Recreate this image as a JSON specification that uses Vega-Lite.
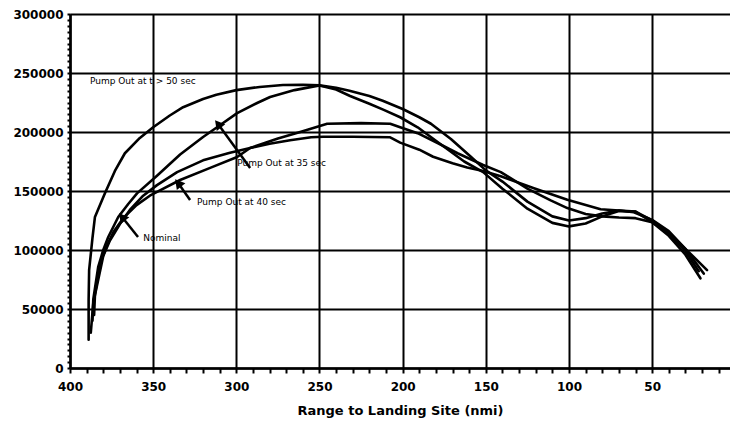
{
  "$schema": "https://vega.github.io/schema/vega-lite/v6.json",
  "autosize": {"type": "none"},
  "padding": {"left": 70, "top": 14, "right": 0, "bottom": 64},
  "width": 660,
  "height": 354,
  "background": "white",
  "view": {"stroke": null},
  "config": {"font": "DejaVu Sans"},
  "datasets": {
    "curves": [
      {"series": "t50", "x": 388.8, "y": 24000}, {"series": "t50", "x": 388.8, "y": 58000}, {"series": "t50", "x": 388.5, "y": 83000}, {"series": "t50", "x": 386.5, "y": 110000}, {"series": "t50", "x": 385, "y": 128000}, {"series": "t50", "x": 379, "y": 148000}, {"series": "t50", "x": 373, "y": 167000}, {"series": "t50", "x": 367, "y": 182000}, {"series": "t50", "x": 358, "y": 195000}, {"series": "t50", "x": 350, "y": 204000}, {"series": "t50", "x": 340, "y": 214000}, {"series": "t50", "x": 332, "y": 221000}, {"series": "t50", "x": 320, "y": 228000}, {"series": "t50", "x": 312, "y": 231500}, {"series": "t50", "x": 300, "y": 235500}, {"series": "t50", "x": 286, "y": 238200}, {"series": "t50", "x": 272, "y": 239800}, {"series": "t50", "x": 260, "y": 240000}, {"series": "t50", "x": 250, "y": 239500}, {"series": "t50", "x": 240, "y": 237500}, {"series": "t50", "x": 232, "y": 235000}, {"series": "t50", "x": 220, "y": 230500}, {"series": "t50", "x": 212, "y": 226500}, {"series": "t50", "x": 200, "y": 219500}, {"series": "t50", "x": 190, "y": 212500}, {"series": "t50", "x": 183, "y": 207000}, {"series": "t50", "x": 171, "y": 194000}, {"series": "t50", "x": 159, "y": 179000}, {"series": "t50", "x": 150, "y": 167500}, {"series": "t50", "x": 140, "y": 158000}, {"series": "t50", "x": 125, "y": 141000}, {"series": "t50", "x": 110, "y": 128500}, {"series": "t50", "x": 100, "y": 125000}, {"series": "t50", "x": 90, "y": 127000}, {"series": "t50", "x": 80, "y": 131000}, {"series": "t50", "x": 70, "y": 133500}, {"series": "t50", "x": 60, "y": 132500}, {"series": "t50", "x": 50, "y": 125000}, {"series": "t50", "x": 40, "y": 115000}, {"series": "t50", "x": 30, "y": 101000}, {"series": "t50", "x": 17, "y": 83000},
      {"series": "t35", "x": 386.5, "y": 40000}, {"series": "t35", "x": 386, "y": 58000}, {"series": "t35", "x": 383, "y": 86000}, {"series": "t35", "x": 380, "y": 100000}, {"series": "t35", "x": 377, "y": 111000}, {"series": "t35", "x": 371, "y": 128000}, {"series": "t35", "x": 365, "y": 139000}, {"series": "t35", "x": 359.7, "y": 148000}, {"series": "t35", "x": 347.7, "y": 163000}, {"series": "t35", "x": 333.8, "y": 181000}, {"series": "t35", "x": 320, "y": 195800}, {"series": "t35", "x": 311.6, "y": 204000}, {"series": "t35", "x": 299.5, "y": 216000}, {"series": "t35", "x": 287.5, "y": 224600}, {"series": "t35", "x": 279.7, "y": 229700}, {"series": "t35", "x": 265, "y": 235500}, {"series": "t35", "x": 250, "y": 239500}, {"series": "t35", "x": 240, "y": 236000}, {"series": "t35", "x": 231.6, "y": 230500}, {"series": "t35", "x": 220, "y": 224000}, {"series": "t35", "x": 211.7, "y": 219000}, {"series": "t35", "x": 201.5, "y": 212500}, {"series": "t35", "x": 191, "y": 204000}, {"series": "t35", "x": 179, "y": 191500}, {"series": "t35", "x": 163, "y": 175000}, {"series": "t35", "x": 151.6, "y": 166000}, {"series": "t35", "x": 140, "y": 152000}, {"series": "t35", "x": 125, "y": 135000}, {"series": "t35", "x": 110, "y": 123000}, {"series": "t35", "x": 100, "y": 120000}, {"series": "t35", "x": 90, "y": 122500}, {"series": "t35", "x": 80, "y": 128500}, {"series": "t35", "x": 70, "y": 133000}, {"series": "t35", "x": 60, "y": 132500}, {"series": "t35", "x": 50, "y": 123500}, {"series": "t35", "x": 40, "y": 112000}, {"series": "t35", "x": 30, "y": 96000}, {"series": "t35", "x": 21, "y": 76000},
      {"series": "nominal", "x": 387.5, "y": 30000}, {"series": "nominal", "x": 386, "y": 55000}, {"series": "nominal", "x": 383, "y": 75000}, {"series": "nominal", "x": 380, "y": 95000}, {"series": "nominal", "x": 376, "y": 108000}, {"series": "nominal", "x": 370, "y": 122000}, {"series": "nominal", "x": 364, "y": 134000}, {"series": "nominal", "x": 356, "y": 146000}, {"series": "nominal", "x": 347.7, "y": 155000}, {"series": "nominal", "x": 335.6, "y": 166000}, {"series": "nominal", "x": 320, "y": 176000}, {"series": "nominal", "x": 303.8, "y": 182500}, {"series": "nominal", "x": 291.7, "y": 186500}, {"series": "nominal", "x": 280, "y": 190000}, {"series": "nominal", "x": 267.7, "y": 193000}, {"series": "nominal", "x": 255, "y": 195500}, {"series": "nominal", "x": 247.8, "y": 196000}, {"series": "nominal", "x": 230, "y": 196000}, {"series": "nominal", "x": 207.5, "y": 195500}, {"series": "nominal", "x": 201.5, "y": 191000}, {"series": "nominal", "x": 190, "y": 185000}, {"series": "nominal", "x": 181.7, "y": 179000}, {"series": "nominal", "x": 170, "y": 173500}, {"series": "nominal", "x": 161.2, "y": 170000}, {"series": "nominal", "x": 151.6, "y": 167000}, {"series": "nominal", "x": 141, "y": 162500}, {"series": "nominal", "x": 121.5, "y": 152500}, {"series": "nominal", "x": 101, "y": 142500}, {"series": "nominal", "x": 81, "y": 134500}, {"series": "nominal", "x": 70, "y": 133500}, {"series": "nominal", "x": 61, "y": 132000}, {"series": "nominal", "x": 50, "y": 125500}, {"series": "nominal", "x": 40, "y": 116000}, {"series": "nominal", "x": 30, "y": 101000}, {"series": "nominal", "x": 19, "y": 80000},
      {"series": "t40", "x": 385.5, "y": 45000}, {"series": "t40", "x": 385, "y": 62000}, {"series": "t40", "x": 382, "y": 88000}, {"series": "t40", "x": 378, "y": 103000}, {"series": "t40", "x": 374, "y": 115000}, {"series": "t40", "x": 368, "y": 127000}, {"series": "t40", "x": 360, "y": 138000}, {"series": "t40", "x": 352, "y": 146000}, {"series": "t40", "x": 345.9, "y": 150500}, {"series": "t40", "x": 333.8, "y": 159300}, {"series": "t40", "x": 315, "y": 170000}, {"series": "t40", "x": 299.5, "y": 178800}, {"series": "t40", "x": 291.7, "y": 186400}, {"series": "t40", "x": 275, "y": 194500}, {"series": "t40", "x": 261.6, "y": 200000}, {"series": "t40", "x": 245.4, "y": 207000}, {"series": "t40", "x": 225, "y": 207500}, {"series": "t40", "x": 207.5, "y": 207000}, {"series": "t40", "x": 201.5, "y": 204000}, {"series": "t40", "x": 191, "y": 199000}, {"series": "t40", "x": 179, "y": 190700}, {"series": "t40", "x": 167, "y": 182000}, {"series": "t40", "x": 151.6, "y": 172000}, {"series": "t40", "x": 141, "y": 166000}, {"series": "t40", "x": 125, "y": 152000}, {"series": "t40", "x": 111, "y": 142000}, {"series": "t40", "x": 101, "y": 135500}, {"series": "t40", "x": 90, "y": 130500}, {"series": "t40", "x": 80, "y": 128500}, {"series": "t40", "x": 70, "y": 127500}, {"series": "t40", "x": 60, "y": 127000}, {"series": "t40", "x": 50, "y": 123500}, {"series": "t40", "x": 40, "y": 114000}, {"series": "t40", "x": 30, "y": 99000}, {"series": "t40", "x": 22, "y": 82000}
    ],
    "arrows": [
      {"label": "t35", "x": 291.7, "y": 169500, "x2": 311, "y2": 206800},
      {"label": "t40", "x": 327.8, "y": 142400, "x2": 335, "y2": 156800},
      {"label": "nominal", "x": 359.1, "y": 111000, "x2": 368.7, "y2": 128000}
    ],
    "labels": [
      {"text": "Pump Out at t > 50 sec", "x": 388, "y": 243000},
      {"text": "Pump Out at 35 sec", "x": 299.5, "y": 173700},
      {"text": "Pump Out at 40 sec", "x": 323.6, "y": 140700},
      {"text": "Nominal", "x": 356, "y": 110000}
    ]
  },
  "layer": [
    {
      "data": {"name": "curves"},
      "mark": {"type": "line", "color": "black", "strokeJoin": "round", "strokeCap": "round"},
      "encoding": {
        "x": {
          "field": "x", "type": "quantitative",
          "scale": {"domain": [400, 3.2], "nice": false, "zero": false},
          "axis": {
            "values": [400, 390, 380, 370, 360, 350, 340, 330, 320, 310, 300, 290, 280, 270, 260, 250, 240, 230, 220, 210, 200, 190, 180, 170, 160, 150, 140, 130, 120, 110, 100, 90, 80, 70, 60, 50, 40, 30, 20, 10],
            "tickCount": 1000,
            "format": "d",
            "labelExpr": "datum.value % 50 === 0 ? datum.label : ''",
            "labelOverlap": false,
            "labelFlush": false,
            "grid": true,
            "gridColor": "black",
            "gridWidth": 2,
            "gridOpacity": {"condition": {"test": "datum.value % 50 === 0", "value": 1}, "value": 0},
            "domainColor": "black",
            "domainWidth": 2.5,
            "tickColor": "black",
            "tickWidth": 2,
            "tickSize": 5,
            "labelColor": "black",
            "labelFont": "DejaVu Sans",
            "labelFontWeight": "bold",
            "labelFontSize": 12,
            "labelPadding": 8,
            "title": "Range to Landing Site (nmi)",
            "titleColor": "black",
            "titleFont": "DejaVu Sans",
            "titleFontWeight": "bold",
            "titleFontSize": 13,
            "titlePadding": 12
          }
        },
        "y": {
          "field": "y", "type": "quantitative",
          "scale": {"domain": [0, 300000], "nice": false, "zero": false},
          "axis": {
            "values": [0, 5000, 10000, 15000, 20000, 25000, 30000, 35000, 40000, 45000, 50000, 55000, 60000, 65000, 70000, 75000, 80000, 85000, 90000, 95000, 100000, 105000, 110000, 115000, 120000, 125000, 130000, 135000, 140000, 145000, 150000, 155000, 160000, 165000, 170000, 175000, 180000, 185000, 190000, 195000, 200000, 205000, 210000, 215000, 220000, 225000, 230000, 235000, 240000, 245000, 250000, 255000, 260000, 265000, 270000, 275000, 280000, 285000, 290000, 295000, 300000],
            "tickCount": 1000,
            "format": "d",
            "labelExpr": "datum.value % 50000 === 0 ? datum.label : ''",
            "labelOverlap": false,
            "labelFlush": false,
            "grid": true,
            "gridColor": "black",
            "gridWidth": 2,
            "gridOpacity": {"condition": {"test": "datum.value % 50000 === 0", "value": 1}, "value": 0},
            "domainColor": "black",
            "domainWidth": 2.5,
            "tickColor": "black",
            "tickWidth": 2,
            "tickSize": 3,
            "labelColor": "black",
            "labelFont": "DejaVu Sans",
            "labelFontWeight": "bold",
            "labelFontSize": 12,
            "labelPadding": 4,
            "title": null
          }
        },
        "detail": {"field": "series", "type": "nominal"},
        "strokeWidth": {
          "field": "series", "type": "nominal",
          "scale": {"domain": ["t50", "t35", "nominal", "t40"], "range": [2.6, 2.6, 2.6, 1.3]},
          "legend": null
        },
        "order": {"value": null}
      }
    },
    {
      "data": {"name": "arrows"},
      "mark": {"type": "rule", "color": "black", "strokeWidth": 2.5},
      "encoding": {
        "x": {"field": "x", "type": "quantitative"},
        "y": {"field": "y", "type": "quantitative"},
        "x2": {"field": "x2"},
        "y2": {"field": "y2"}
      }
    },
    {
      "data": {"name": "arrows"},
      "mark": {"type": "point", "shape": "triangle-up", "filled": true, "color": "black", "opacity": 1, "size": 120, "angle": 321},
      "encoding": {
        "x": {"field": "x2", "type": "quantitative"},
        "y": {"field": "y2", "type": "quantitative"}
      }
    },
    {
      "data": {"name": "labels"},
      "mark": {"type": "text", "align": "left", "baseline": "middle", "font": "DejaVu Sans", "fontSize": 9, "color": "black"},
      "encoding": {
        "x": {"field": "x", "type": "quantitative"},
        "y": {"field": "y", "type": "quantitative"},
        "text": {"field": "text"}
      }
    }
  ]
}
